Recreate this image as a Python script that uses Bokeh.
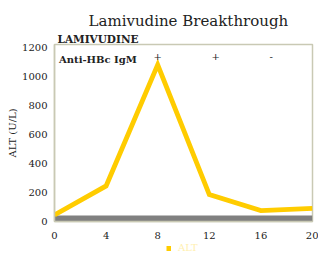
from bokeh.plotting import figure
from bokeh.layouts import column
from bokeh.models import Label, Range1d, FixedTicker, Legend, LegendItem, Title
from bokeh.embed import file_html
from bokeh.resources import INLINE

weeks = [0, 4, 8, 12, 16, 20]
alt = [45, 245, 1080, 185, 75, 90]
lam_x = [0, 20]
lam_y = [20, 20]
x_ticks = [0, 4, 8, 12, 16, 20]
y_ticks = [0, 200, 400, 600, 800, 1000, 1200]
igm_x = [8, 12.5, 16.8]
igm_txt = ["+", "+", "-"]

SERIF = "DejaVu Serif"
INK = "#222222"
GOLD = "#FFCC00"

p = figure(width=318, height=243, output_backend="svg", toolbar_location=None,
           x_range=Range1d(0, 20), y_range=Range1d(0, 1220),
           min_border_left=54, min_border_right=6, min_border_top=44, min_border_bottom=22)
p.title.text = "Lamivudine Breakthrough"
p.title.align = "left"
p.title.offset = 34
p.title.standoff = 2
p.title.text_font = SERIF
p.title.text_font_size = "15px"
p.title.text_font_style = "normal"
p.title.text_color = INK
p.add_layout(Title(text="LAMIVUDINE", align="left", offset=3, standoff=0,
                   text_font=SERIF, text_font_size="10.5px", text_font_style="bold",
                   text_color=INK), "above")

p.background_fill_color = "white"
p.border_fill_color = "white"
p.outline_line_color = "#c9c9b4"
p.outline_line_width = 1.5
p.xgrid.visible = False
p.ygrid.visible = False

for ax in (p.xaxis[0], p.yaxis[0]):
    ax.axis_line_color = "#c9c9b4"
    ax.axis_line_width = 1.5
    ax.major_tick_line_color = None
    ax.minor_tick_line_color = None
    ax.major_label_text_font = SERIF
    ax.major_label_text_font_size = "10px"
    ax.major_label_text_color = INK

p.xaxis.ticker = FixedTicker(ticks=x_ticks)
p.yaxis.ticker = FixedTicker(ticks=y_ticks)
p.xaxis.major_label_standoff = 4
p.yaxis.major_label_standoff = 1
p.yaxis.axis_label = "ALT (U/L)"
p.yaxis.axis_label_text_font = SERIF
p.yaxis.axis_label_text_font_size = "10px"
p.yaxis.axis_label_text_font_style = "normal"
p.yaxis.axis_label_text_color = INK
p.yaxis.axis_label_standoff = 1

p.line(lam_x, lam_y, line_color="#808080", line_width=6)
p.line(weeks, alt, line_color=GOLD, line_width=4.8, line_join="miter")

p.add_layout(Label(x=0.35, y=1120, text="Anti-HBc IgM", text_font=SERIF, text_font_style="bold",
                   text_font_size="10px", text_baseline="alphabetic", text_color=INK))
for xx, tt in zip(igm_x, igm_txt):
    p.add_layout(Label(x=xx, y=1120, y_offset=3, text=tt, text_font=SERIF, text_font_size="10px",
                       text_align="center", text_baseline="alphabetic", text_color=INK))

# legend strip below the chart
lg = figure(width=318, height=10, output_backend="svg", toolbar_location=None,
            x_range=Range1d(0, 20), y_range=Range1d(5000, 6000),
            x_axis_type=None, y_axis_type=None,
            min_border_left=0, min_border_right=0, min_border_top=0, min_border_bottom=0)
lg.outline_line_color = None
lg.xgrid.visible = False
lg.ygrid.visible = False
r_leg = lg.line(weeks, alt, line_color=GOLD, line_width=5)
legend = Legend(items=[LegendItem(label="ALT", renderers=[r_leg])], location=(112, 0),
                orientation="horizontal", background_fill_alpha=0, border_line_color=None,
                label_text_font=SERIF, label_text_font_size="10px", label_text_color="#FFF0B0",
                label_text_baseline="middle",
                glyph_width=5, glyph_height=6, label_height=10, label_width=20,
                padding=0, margin=0, spacing=0, label_standoff=7)
lg.add_layout(legend, "center")

layout = column(p, lg, spacing=0)
open("out.html", "w").write(file_html(layout, INLINE))
